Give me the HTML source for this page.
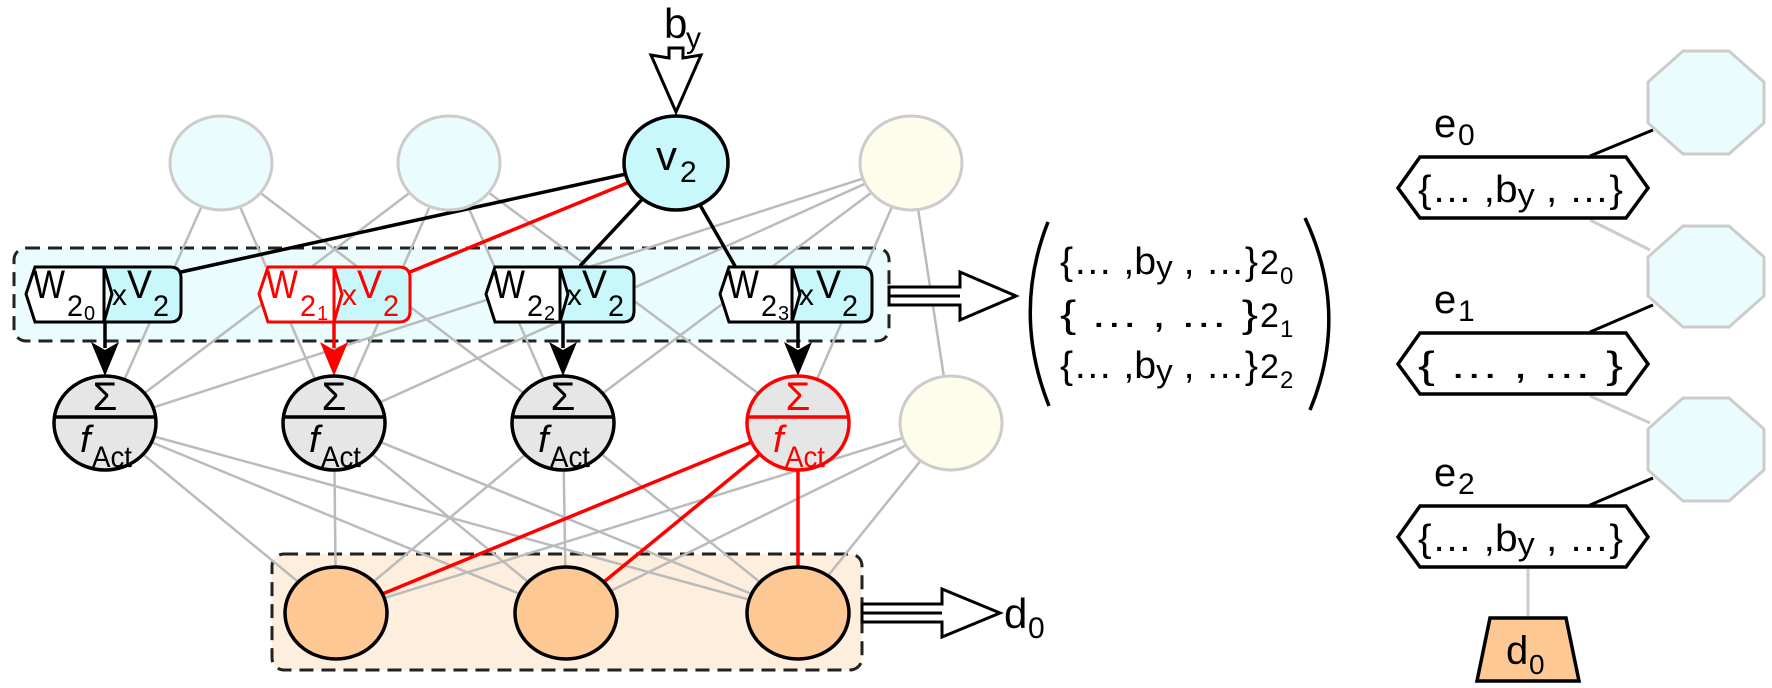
<!DOCTYPE html>
<html><head><meta charset="utf-8"><style>
html,body{margin:0;padding:0;background:#fff}
svg{display:block}
text{font-family:"Liberation Sans",sans-serif}
</style></head><body>
<svg width="1772" height="688" viewBox="0 0 1772 688" xmlns="http://www.w3.org/2000/svg">
<!-- dashed boxes -->
<rect x="14" y="248" width="875" height="93" rx="12" fill="#eafcfd" stroke="#222" stroke-width="3" stroke-dasharray="14,8"/>
<rect x="272" y="554" width="590" height="116" rx="12" fill="#fdeedd" stroke="#222" stroke-width="3" stroke-dasharray="14,8"/>

<!-- gray lines -->
<g stroke="#bbb" stroke-width="2.5">
<line x1="221" y1="163" x2="105" y2="423"/><line x1="221" y1="163" x2="334" y2="423"/><line x1="221" y1="163" x2="563" y2="423"/>
<line x1="449" y1="163" x2="105" y2="423"/><line x1="449" y1="163" x2="334" y2="423"/><line x1="449" y1="163" x2="563" y2="423"/><line x1="449" y1="163" x2="798" y2="423"/>
<line x1="911" y1="163" x2="105" y2="423"/><line x1="911" y1="163" x2="334" y2="423"/><line x1="911" y1="163" x2="563" y2="423"/><line x1="911" y1="163" x2="798" y2="423"/><line x1="911" y1="163" x2="951" y2="423"/>
<line x1="105" y1="423" x2="336" y2="613"/><line x1="105" y1="423" x2="566" y2="613"/><line x1="105" y1="423" x2="798" y2="613"/>
<line x1="334" y1="423" x2="336" y2="613"/><line x1="334" y1="423" x2="566" y2="613"/><line x1="334" y1="423" x2="798" y2="613"/>
<line x1="563" y1="423" x2="336" y2="613"/><line x1="563" y1="423" x2="566" y2="613"/><line x1="563" y1="423" x2="798" y2="613"/>
<line x1="951" y1="423" x2="336" y2="613"/><line x1="951" y1="423" x2="566" y2="613"/><line x1="951" y1="423" x2="798" y2="613"/>
</g>
<g stroke="#f00" stroke-width="3.5">
<line x1="798" y1="423" x2="336" y2="613"/><line x1="798" y1="423" x2="566" y2="613"/><line x1="798" y1="423" x2="798" y2="613"/>
</g>
<!-- v2 lines -->
<line x1="676" y1="163" x2="181" y2="272" stroke="#000" stroke-width="3.5"/>
<line x1="676" y1="163" x2="410" y2="272" stroke="#f00" stroke-width="3.5"/>
<line x1="676" y1="163" x2="580" y2="266" stroke="#000" stroke-width="3.5"/>
<line x1="676" y1="163" x2="735" y2="266" stroke="#000" stroke-width="3.5"/>

<!-- top circles -->
<ellipse cx="221" cy="163" rx="51" ry="47" fill="#eafcfd" stroke="#ccc" stroke-width="3"/>
<ellipse cx="449" cy="163" rx="51" ry="47" fill="#eafcfd" stroke="#ccc" stroke-width="3"/>
<ellipse cx="911" cy="163" rx="51" ry="47" fill="#fefdec" stroke="#ccc" stroke-width="3"/>
<ellipse cx="676" cy="163" rx="52" ry="47" fill="#c8f8fb" stroke="#000" stroke-width="3.5"/>
<text x="656" y="170" font-size="42">v</text><text x="680" y="182" font-size="30">2</text>

<!-- by arrow -->
<text x="664" y="38" font-size="42">b</text><text x="686" y="48" font-size="30">y</text>
<path d="M669,48 L683,48 L683,58 L701,55 L676,112 L651,55 L669,58 Z" fill="#fff" stroke="#000" stroke-width="3"/>

<!-- product boxes -->
<g stroke-width="3">
<g transform="translate(25,0)">
<path d="M79,267 L10,267 L1,294 L10,322 L79,322 Z" fill="#fff" stroke="#000"/>
<path d="M79,267 L145,267 Q156,267 156,278 L156,311 Q156,322 145,322 L79,322 L87,294 Z" fill="#c8f8fb" stroke="#000"/>
</g>
<g transform="translate(258,0)">
<path d="M76,267 L10,267 L1,294 L10,322 L76,322 Z" fill="#fff" stroke="#f00"/>
<path d="M76,267 L141,267 Q152,267 152,278 L152,311 Q152,322 141,322 L76,322 L84,294 Z" fill="#c8f8fb" stroke="#f00"/>
</g>
<g transform="translate(485,0)">
<path d="M75,267 L10,267 L1,294 L10,322 L75,322 Z" fill="#fff" stroke="#000"/>
<path d="M75,267 L138,267 Q149,267 149,278 L149,311 Q149,322 138,322 L75,322 L83,294 Z" fill="#c8f8fb" stroke="#000"/>
</g>
<g transform="translate(719,0)">
<path d="M73,267 L10,267 L1,294 L10,322 L73,322 Z" fill="#fff" stroke="#000"/>
<path d="M73,267 L142,267 Q153,267 153,278 L153,311 Q153,322 142,322 L73,322 L81,294 Z" fill="#c8f8fb" stroke="#000"/>
</g>
</g>
<g transform="translate(25,0)">
<text x="8" y="298" font-size="40" textLength="32" lengthAdjust="spacingAndGlyphs">W</text>
<text x="42" y="316" font-size="30" textLength="16" lengthAdjust="spacingAndGlyphs">2</text><text x="59" y="320" font-size="20">0</text>
<text x="87" y="305" font-size="30">x</text><text x="102" y="298" font-size="40" textLength="25" lengthAdjust="spacingAndGlyphs">V</text><text x="128" y="316" font-size="30" textLength="16" lengthAdjust="spacingAndGlyphs">2</text></g>
<g transform="translate(258,0)" fill="#f00">
<text x="8" y="298" font-size="40" textLength="32" lengthAdjust="spacingAndGlyphs">W</text>
<text x="42" y="316" font-size="30" textLength="16" lengthAdjust="spacingAndGlyphs">2</text><text x="59" y="320" font-size="20">1</text>
<text x="84" y="305" font-size="30">x</text><text x="99" y="298" font-size="40" textLength="25" lengthAdjust="spacingAndGlyphs">V</text><text x="125" y="316" font-size="30" textLength="16" lengthAdjust="spacingAndGlyphs">2</text></g>
<g transform="translate(485,0)">
<text x="8" y="298" font-size="40" textLength="32" lengthAdjust="spacingAndGlyphs">W</text>
<text x="42" y="316" font-size="30" textLength="16" lengthAdjust="spacingAndGlyphs">2</text><text x="59" y="320" font-size="20">2</text>
<text x="82" y="305" font-size="30">x</text><text x="97" y="298" font-size="40" textLength="25" lengthAdjust="spacingAndGlyphs">V</text><text x="123" y="316" font-size="30" textLength="16" lengthAdjust="spacingAndGlyphs">2</text></g>
<g transform="translate(719,0)">
<text x="8" y="298" font-size="40" textLength="32" lengthAdjust="spacingAndGlyphs">W</text>
<text x="42" y="316" font-size="30" textLength="16" lengthAdjust="spacingAndGlyphs">2</text><text x="59" y="320" font-size="20">3</text>
<text x="80" y="305" font-size="30">x</text><text x="97" y="298" font-size="40" textLength="25" lengthAdjust="spacingAndGlyphs">V</text><text x="123" y="316" font-size="30" textLength="16" lengthAdjust="spacingAndGlyphs">2</text></g>

<!-- down arrows -->
<g stroke-width="3.5">
<line x1="105" y1="323" x2="105" y2="348" stroke="#000"/>
<line x1="563" y1="323" x2="563" y2="348" stroke="#000"/>
<line x1="798" y1="323" x2="798" y2="348" stroke="#000"/>
<line x1="334" y1="323" x2="334" y2="348" stroke="#f00"/>
</g>
<path d="M320,342 L334,376 L348,342 L334,350 Z" fill="#f00"/>
<path d="M91,342 L105,376 L119,342 L105,350 Z" fill="#000"/>
<path d="M549,342 L563,376 L577,342 L563,350 Z" fill="#000"/>
<path d="M784,342 L798,376 L812,342 L798,350 Z" fill="#000"/>

<!-- sum circles -->
<g>
<ellipse cx="105" cy="423" rx="51" ry="47" fill="#e6e6e6" stroke="#000" stroke-width="3.5"/><line x1="54" y1="417" x2="156" y2="417" stroke="#000" stroke-width="3.5"/>
<text x="105" y="410" text-anchor="middle" font-size="40">Σ</text><text x="80" y="452" font-family="Liberation Serif" font-style="italic" font-size="38">f</text><text x="92" y="467" font-size="30" textLength="40" lengthAdjust="spacingAndGlyphs">Act</text>
<ellipse cx="334" cy="423" rx="51" ry="47" fill="#e6e6e6" stroke="#000" stroke-width="3.5"/><line x1="283" y1="417" x2="385" y2="417" stroke="#000" stroke-width="3.5"/>
<text x="334" y="410" text-anchor="middle" font-size="40">Σ</text><text x="309" y="452" font-family="Liberation Serif" font-style="italic" font-size="38">f</text><text x="321" y="467" font-size="30" textLength="40" lengthAdjust="spacingAndGlyphs">Act</text>
<ellipse cx="563" cy="423" rx="51" ry="47" fill="#e6e6e6" stroke="#000" stroke-width="3.5"/><line x1="512" y1="417" x2="614" y2="417" stroke="#000" stroke-width="3.5"/>
<text x="563" y="410" text-anchor="middle" font-size="40">Σ</text><text x="538" y="452" font-family="Liberation Serif" font-style="italic" font-size="38">f</text><text x="550" y="467" font-size="30" textLength="40" lengthAdjust="spacingAndGlyphs">Act</text>
<g fill="#f00">
<ellipse cx="798" cy="423" rx="51" ry="47" fill="#e6e6e6" stroke="#f00" stroke-width="3.5"/><line x1="747" y1="417" x2="849" y2="417" stroke="#f00" stroke-width="3.5"/>
<text x="798" y="410" text-anchor="middle" font-size="40">Σ</text><text x="773" y="452" font-family="Liberation Serif" font-style="italic" font-size="38">f</text><text x="785" y="467" font-size="30" textLength="40" lengthAdjust="spacingAndGlyphs">Act</text>
</g>
</g>
<ellipse cx="951" cy="423" rx="51" ry="47" fill="#fefdec" stroke="#ccc" stroke-width="3"/>
<!-- bottom circles -->
<ellipse cx="336" cy="613" rx="51" ry="46" fill="#fdc894" stroke="#000" stroke-width="3.5"/>
<ellipse cx="566" cy="613" rx="51" ry="46" fill="#fdc894" stroke="#000" stroke-width="3.5"/>
<ellipse cx="798" cy="613" rx="51" ry="46" fill="#fdc894" stroke="#000" stroke-width="3.5"/>

<!-- big arrows -->
<path d="M889,287 L960,287 L960,272 L1016,296 L960,320 L960,305 L889,305 Z M889,296 L960,296" fill="#fff" stroke="#000" stroke-width="3"/>
<path d="M862,604 L942,604 L942,589 L1000,613 L942,637 L942,622 L862,622 Z M862,613 L942,613" fill="#fff" stroke="#000" stroke-width="3"/>
<text x="1004" y="628" font-size="42">d</text><text x="1028" y="638" font-size="30">0</text>

<!-- paren list -->
<path d="M1048,222 Q1012,313 1049,406" fill="none" stroke="#000" stroke-width="3.5"/>
<path d="M1305,218 Q1350,314 1310,410" fill="none" stroke="#000" stroke-width="3.5"/>
<g font-size="38">
<text x="1060" y="274" textLength="198" lengthAdjust="spacingAndGlyphs">{… ,b<tspan font-size="32" dy="4">y</tspan><tspan dy="-4"> , …}</tspan></text><text x="1260" y="274" font-size="34">2</text><text x="1280" y="284" font-size="24">0</text>
<text x="1060" y="327" textLength="198" lengthAdjust="spacingAndGlyphs">{  …   ,   …   }</text><text x="1260" y="327" font-size="34">2</text><text x="1280" y="337" font-size="24">1</text>
<text x="1060" y="378" textLength="198" lengthAdjust="spacingAndGlyphs">{… ,b<tspan font-size="32" dy="4">y</tspan><tspan dy="-4"> , …}</tspan></text><text x="1260" y="378" font-size="34">2</text><text x="1280" y="388" font-size="24">2</text>
</g>

<!-- right column -->
<g stroke-width="3">
<line x1="1590" y1="220" x2="1650" y2="250" stroke="#ccc"/>
<line x1="1590" y1="396" x2="1650" y2="423" stroke="#ccc"/>
<line x1="1528" y1="569" x2="1528" y2="618" stroke="#ccc"/>
<line x1="1590" y1="156" x2="1653" y2="130" stroke="#000"/>
<line x1="1590" y1="332" x2="1653" y2="305" stroke="#000"/>
<line x1="1590" y1="505" x2="1653" y2="478" stroke="#000"/>
</g>
<g fill="#eafcfd" stroke="#ccc" stroke-width="3">
<polygon points="1683,51 1729,51 1764,82 1764,123 1729,154 1683,154 1648,123 1648,82"/>
<polygon points="1683,226 1729,226 1764,257 1764,296 1729,327 1683,327 1648,296 1648,257"/>
<polygon points="1683,398 1729,398 1764,429 1764,470 1729,501 1683,501 1648,470 1648,429"/>
</g>
<g fill="#fff" stroke="#000" stroke-width="3.5">
<polygon points="1420,157 1626,157 1648,188 1626,218 1420,218 1398,188"/>
<polygon points="1420,333 1626,333 1648,364 1626,394 1420,394 1398,364"/>
<polygon points="1420,506 1626,506 1648,537 1626,567 1420,567 1398,537"/>
</g>
<polygon points="1490,618 1566,618 1579,681 1477,681" fill="#fdc894" stroke="#000" stroke-width="3.5"/>
<g font-size="40">
<text x="1434" y="137">e</text><text x="1458" y="145" font-size="30">0</text>
<text x="1434" y="313">e</text><text x="1458" y="321" font-size="30">1</text>
<text x="1434" y="486">e</text><text x="1458" y="494" font-size="30">2</text>
<text x="1418" y="202" font-size="38" textLength="205" lengthAdjust="spacingAndGlyphs">{… ,b<tspan font-size="32" dy="4">y</tspan><tspan dy="-4"> , …}</tspan></text>
<text x="1418" y="378" font-size="38" textLength="205" lengthAdjust="spacingAndGlyphs">{  …   ,   …   }</text>
<text x="1418" y="551" font-size="38" textLength="205" lengthAdjust="spacingAndGlyphs">{… ,b<tspan font-size="32" dy="4">y</tspan><tspan dy="-4"> , …}</tspan></text>
<text x="1506" y="664" font-size="40">d</text><text x="1529" y="674" font-size="28">0</text>
</g>
</svg>
</body></html>
